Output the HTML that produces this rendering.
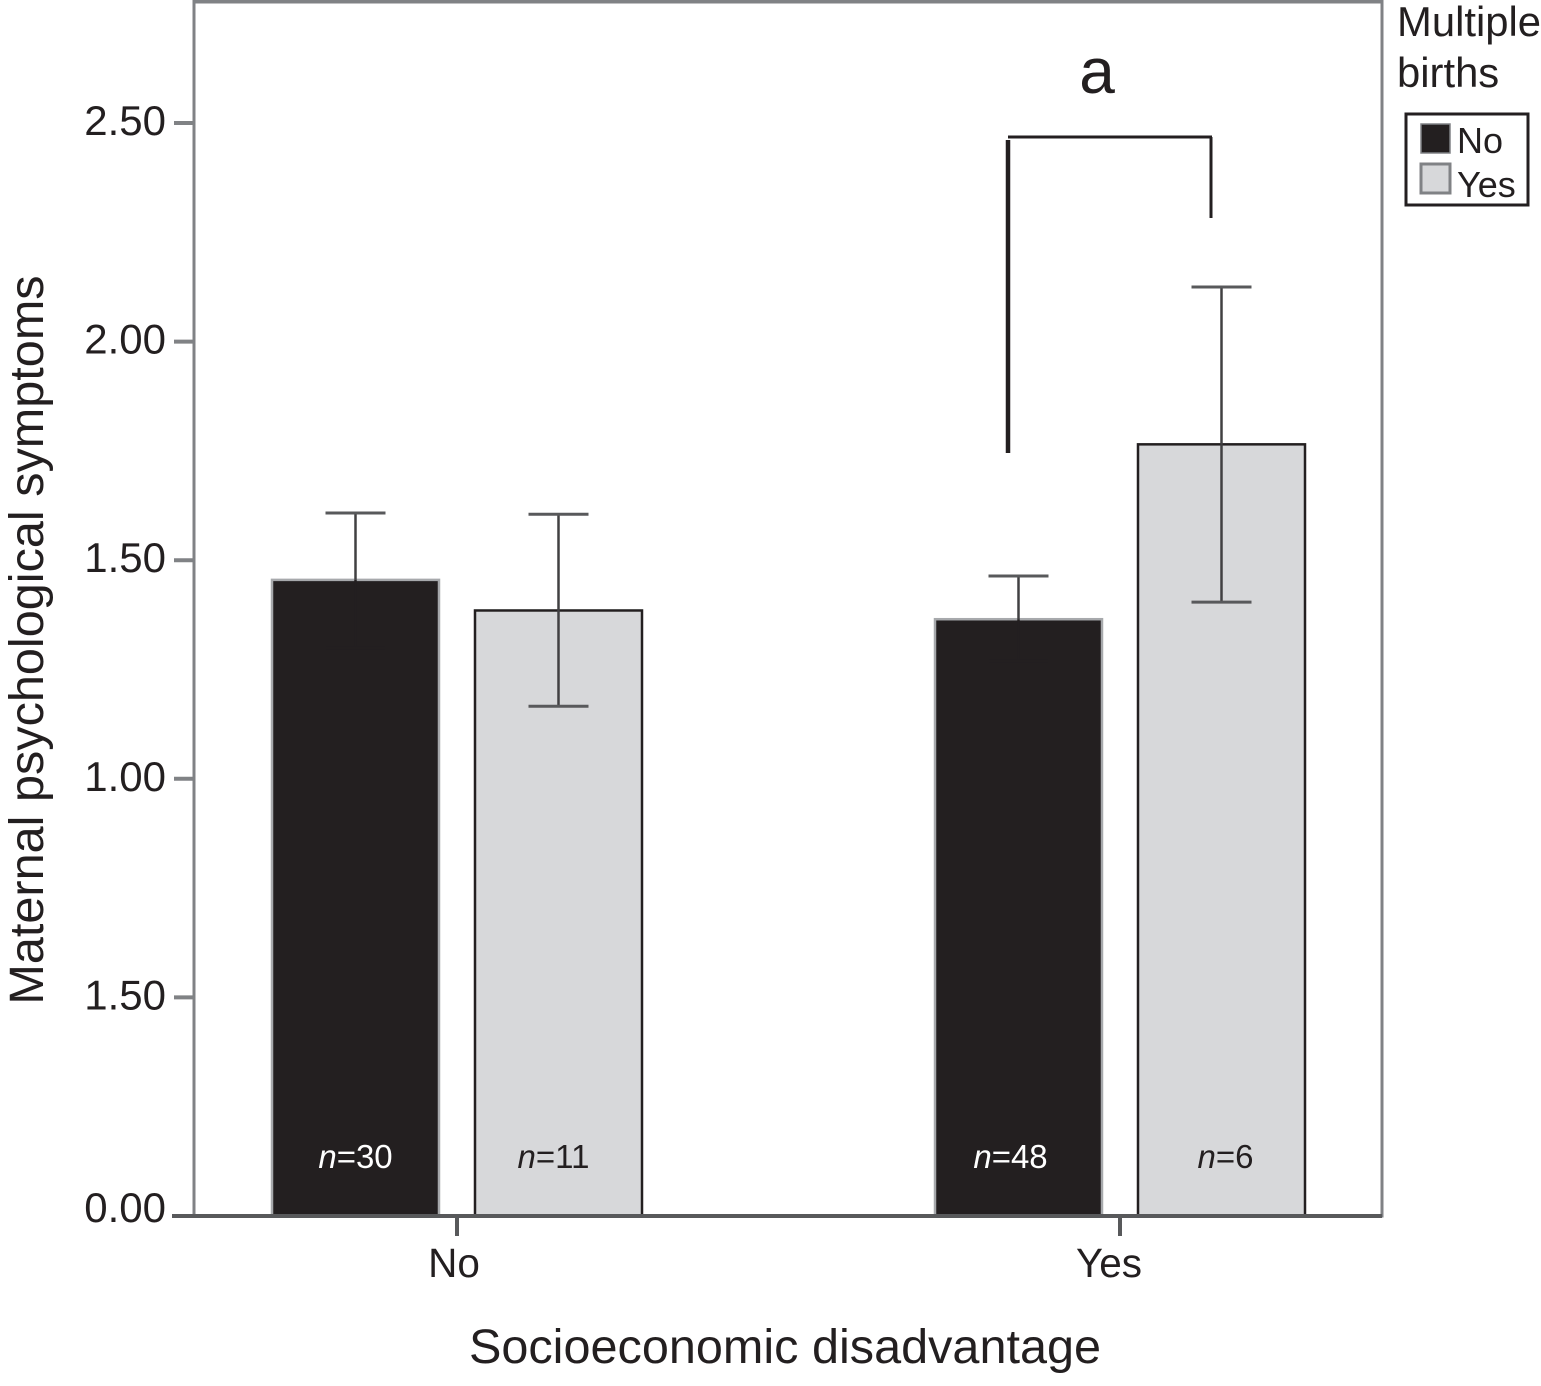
<!DOCTYPE html>
<html>
<head>
<meta charset="utf-8">
<title>Maternal psychological symptoms</title>
<style>
html,body{margin:0;padding:0;background:#fff}
svg{display:block}
text{font-family:"Liberation Sans",Arial,sans-serif;fill:#231f20}
</style>
</head>
<body>
<svg id="chart" xmlns="http://www.w3.org/2000/svg" width="1541" height="1386" viewBox="0 0 1541 1386">
  <rect x="194" y="1" width="1188" height="1215" fill="#fff" stroke="#808285" stroke-width="3"/>
  <line x1="193" x2="1383" y1="1.5" y2="1.5" stroke="#808285" stroke-width="4"/>
  <text transform="translate(43,640) rotate(-90)" text-anchor="middle" font-size="48.6">Maternal psychological symptoms</text>
  <text x="785" y="1363" text-anchor="middle" font-size="48.6">Socioeconomic disadvantage</text>
  <text x="1397" y="36" font-size="41.8">Multiple</text>
  <text x="1397" y="87" font-size="41.8">births</text>
  <rect x="1406" y="114" width="122" height="91" fill="#fff" stroke="#231f20" stroke-width="3"/>
  <rect x="1421" y="124" width="29" height="29" fill="#231f20" stroke="#808285" stroke-width="1.5"/>
  <text x="1457" y="153" font-size="36">No</text>
  <rect x="1421" y="164" width="29" height="29" fill="#d7d8da" stroke="#808285" stroke-width="3"/>
  <text x="1457" y="197" font-size="36">Yes</text>
  <g id="marks"></g>
  <path d="M1008 453V140" fill="none" stroke="#231f20" stroke-width="4.5"/>
  <path d="M1008 137H1212" fill="none" stroke="#231f20" stroke-width="3"/>
  <path d="M1211 137V218" fill="none" stroke="#231f20" stroke-width="3"/>
  <text x="1097" y="93" text-anchor="middle" font-size="64">a</text>
</svg>
<script>
const yTicks = [0, 0.5, 1, 1.5, 2, 2.5];
const yTickLabels = ["0.00", "1.50", "1.00", "1.50", "2.00", "2.50"];
const categories = ["No", "Yes"];
const seriesNames = ["No", "Yes"];
const seriesNo = [1.455, 1.365];
const seriesYes = [1.385, 1.765];
const upperNo = [1.608, 1.464];
const lowerNo = [1.30, 1.27];
const upperYes = [1.605, 2.125];
const lowerYes = [1.166, 1.404];
const countsNo = [30, 48];
const countsYes = [11, 6];

const NS = "http://www.w3.org/2000/svg";
const root = document.getElementById("marks");
const yScale = function (v) { return 1216 - v * 437.2; };
const groupX = function (i) { return 457 + i * 663; };
const barX = function (i, s) { return groupX(i) - 185 + s * 203; };
const barWidth = 167;

function make(tag, attrs, parent) {
  const el = document.createElementNS(NS, tag);
  Object.keys(attrs).forEach(function (k) { el.setAttribute(k, attrs[k]); });
  (parent || root).appendChild(el);
  return el;
}

function countLabelNudge(i, s) {
  if (s === 0) { return i === 0 ? 0 : -8; }
  return i === 0 ? -5 : 4;
}

yTicks.forEach(function (t, i) {
  const tick = make("line", { x1: 174, x2: 194, y1: yScale(t), y2: yScale(t), stroke: "#808285", "stroke-width": 4 });
  
  
  const lift = t === 0 ? 6 : 0;
  const label = make("text", { x: 166, y: yScale(t) + 12 - lift, "text-anchor": "end", "font-size": 42 });
  label.textContent = yTickLabels[i];
  
  
});

categories.forEach(function (c, i) {
  const tick = make("line", { x1: groupX(i), x2: groupX(i), y1: 1216, y2: 1236, stroke: "#58595b", "stroke-width": 4 });
  
  
  const label = make("text", { x: groupX(i) - 3 - i * 8, y: 1277, "text-anchor": "middle", "font-size": 40.5 });
  label.textContent = c;
  
  
});

function drawSeries(values, uppers, lowers, counts, s) {
  values.forEach(function (v, i) {
    const x = barX(i, s);
    const cx = x + barWidth / 2;
    const dark = s === 0;
    const bar = make("rect", {
      x: x, y: yScale(v), width: barWidth, height: yScale(0) - yScale(v),
      fill: dark ? "#231f20" : "#d7d8da", stroke: dark ? "#a7a9ac" : "#231f20", "stroke-width": 2.5
    });
    
    
    const stemUp = make("line", { x1: cx, x2: cx, y1: yScale(uppers[i]), y2: yScale(v), stroke: "#414042", "stroke-width": 2.5 });
    
    
    const stemDown = make("line", { x1: cx, x2: cx, y1: yScale(v), y2: yScale(lowers[i]), stroke: dark ? "#231f20" : "#414042", "stroke-width": 2.5 });
    
    
    [uppers[i], lowers[i]].forEach(function (e) {
      const hidden = dark && e === lowers[i];
      const cap = make("line", { x1: cx - 30, x2: cx + 30, y1: yScale(e), y2: yScale(e), stroke: hidden ? "#231f20" : "#58595b", "stroke-width": 3 });
      
      
    });
    const n = make("text", { x: cx + countLabelNudge(i, s), y: 1168, "text-anchor": "middle", "font-size": 33, style: "fill:" + (dark ? "#fff" : "#231f20") });
    const nItalic = make("tspan", { "font-style": "italic" }, n);
    nItalic.textContent = "n";
    const nValue = make("tspan", {}, n);
    nValue.textContent = "=" + counts[i];
    
    
  });
}

drawSeries(seriesNo, upperNo, lowerNo, countsNo, 0);
drawSeries(seriesYes, upperYes, lowerYes, countsYes, 1);

const baseline = make("line", { x1: 172, x2: 1382, y1: 1216, y2: 1216, stroke: "#58595b", "stroke-width": 4 });


</script>
</body>
</html>
